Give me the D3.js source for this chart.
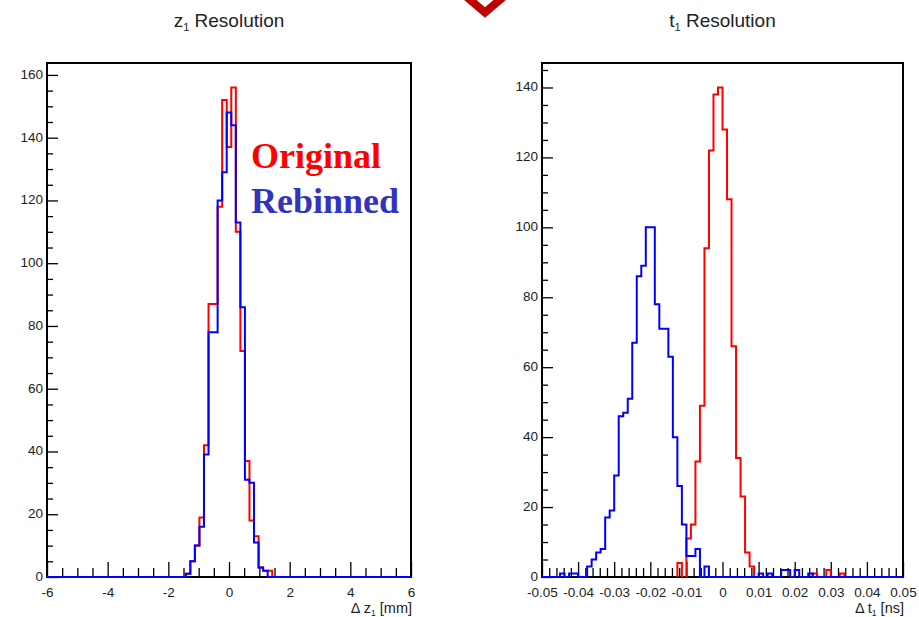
<!DOCTYPE html>
<html>
<head>
<meta charset="utf-8">
<script src="https://d3js.org/d3.v7.min.js"></script>
<style>
  body { margin: 0; background: #fff; }
  svg { display: block; font-family: "Liberation Sans", Arial, Helvetica, sans-serif; }
</style>
</head>
<body>
<svg id="chart" width="919" height="617"></svg>
<script>
// ---- z1 resolution: bins of 0.15 mm, centred on multiples of 0.15 ----
const zRange = [-6, 6];
const zBinWidth = 0.15;
const zStart = -1.425;            // low edge of the first listed bin
const zOriginal = [1, 5, 10, 19, 42, 87, 87, 118, 152, 137, 156, 110, 72, 37, 18, 13, 3, 2, 2];
const zRebinned = [1, 5, 10, 16, 39, 78, 78, 120, 129, 148, 144, 113, 86, 31, 30, 11, 3, 2];
const zXTicks = [-6, -4, -2, 0, 2, 4, 6];
const zXLabels = ['-6', '-4', '-2', '0', '2', '4', '6'];
const zYTicks = [0, 20, 40, 60, 80, 100, 120, 140, 160];

// ---- t1 resolution: 80 bins on [-0.05, 0.05] ----
const tRange = [-0.05, 0.05];
const tBinWidth = 0.00125;
const tOriginalStart = -0.0125;
const tOriginal = [4, 0, 11, 15, 33, 49, 94, 122, 138, 140, 128, 108, 66, 34, 23, 7, 3,
                   0, 0, 0, 0, 0, 0, 0, 0, 0, 0, 0, 0, 0, 1, 0, 0, 2, 0, 0, 1];
const tRebinnedStart = -0.045;
const tRebinned = [1, 0, 1, 1, 0, 0, 3, 5, 7, 8, 17, 19, 29, 46, 47, 51, 67, 86, 89, 100,
                   100, 78, 71, 71, 63, 40, 26, 15, 6, 6, 8, 0, 3, 0, 0, 0, 0, 0, 0, 0,
                   0, 0, 0, 0, 1, 0, 1, 0, 0, 2, 2, 0, 2, 0, 0, 1];
const tXTicks = [-0.05, -0.04, -0.03, -0.02, -0.01, 0, 0.01, 0.02, 0.03, 0.04, 0.05];
const tXLabels = ['-0.05', '-0.04', '-0.03', '-0.02', '-0.01', '0', '0.01', '0.02', '0.03', '0.04', '0.05'];
const tYTicks = [0, 20, 40, 60, 80, 100, 120, 140];

const legendLabels = ['Original', 'Rebinned'];

const svg = d3.select('#chart');

class HistoPanel {

    constructor( config ) {
        this.config = {
            left: config.left,
            top: config.top,
            width: config.width,
            height: config.height,
            xdomain: config.xdomain,
            ymax: config.ymax,
            xticks: config.xticks,
            xlabels: config.xlabels,
            xminor: config.xminor,
            yticks: config.yticks,
            yminor: config.yminor,
            title: config.title,
            xtitle: config.xtitle
        };
        this.init();
    }

    init() {
        let self = this;
        const c = self.config;

        self.xscale = d3.scaleLinear().domain( c.xdomain ).range( [0, c.width] );
        self.yscale = d3.scaleLinear().domain( [0, c.ymax] ).range( [c.height, 0] );

        self.chart = svg.append('g')
            .attr('transform', `translate(${c.left}, ${c.top})`);

        const clean = g => {
            g.select('.domain').remove();
            g.selectAll('line').attr('stroke', '#000').attr('stroke-width', 1.3);
            g.attr('font-family', null)
                .attr('font-size', 13.5)
                .selectAll('text').attr('fill', '#222');
        };

        // x ticks point up into the frame
        self.chart.append('g')
            .attr('transform', `translate(0, ${c.height})`)
            .call( d3.axisBottom( self.xscale ).tickValues( c.xminor ).tickSize(-9).tickFormat('') )
            .call( clean );
        self.chart.append('g')
            .attr('transform', `translate(0, ${c.height})`)
            .call( d3.axisBottom( self.xscale ).tickValues( c.xticks ).tickSize(-15)
                .tickPadding(10.5).tickFormat( (d, i) => c.xlabels[i] ) )
            .call( clean );

        // y ticks point right
        self.chart.append('g')
            .call( d3.axisLeft( self.yscale ).tickValues( c.yminor ).tickSize(-6).tickFormat('') )
            .call( clean );
        self.chart.append('g')
            .call( d3.axisLeft( self.yscale ).tickValues( c.yticks ).tickSize(-11)
                .tickPadding(4).tickFormat( d3.format('d') ) )
            .call( clean )
            .selectAll('text').attr('dy', '0.25em');

        self.chart.append('rect')
            .attr('width', c.width)
            .attr('height', c.height)
            .attr('fill', 'none')
            .attr('stroke', '#000')
            .attr('stroke-width', 2);

        // title with subscript
        const title = svg.append('text')
            .attr('x', c.left + c.width / 2)
            .attr('y', 27)
            .attr('text-anchor', 'middle')
            .attr('font-size', 19)
            .attr('fill', '#222');
        title.append('tspan').text( c.title[0] );
        title.append('tspan').attr('font-size', 11).attr('dy', 4).text( c.title[1] );
        title.append('tspan').attr('dy', -4).text( c.title[2] );

        const xt = svg.append('text')
            .attr('x', c.left + c.width + 1)
            .attr('y', 613)
            .attr('text-anchor', 'end')
            .attr('font-size', 14.5)
            .attr('fill', '#222');
        xt.append('tspan').text( c.xtitle[0] );
        xt.append('tspan').attr('font-size', 8.5).attr('dy', 3).text( c.xtitle[1] );
        xt.append('tspan').attr('dy', -3).text( c.xtitle[2] );

        self.hists = self.chart.append('g');
    }

    // full = true draws the empty bins along the baseline as well
    addHist( start, binWidth, counts, color, full ) {
        let self = this;
        const c = self.config;
        const edge = i => start + i * binWidth;

        const line = d3.line()
            .x( d => self.xscale( d[0] ) )
            .y( d => self.yscale( d[1] ) )
            .curve( d3.curveStepAfter );

        let runs = [];
        if ( full ) {
            runs.push( [[c.xdomain[0], 0]]
                .concat( counts.map( (v, i) => [edge(i), v] ) )
                .concat( [[edge(counts.length), 0], [c.xdomain[1], 0]] ) );
        } else {
            let run = null;
            counts.forEach( (v, i) => {
                if ( v > 0 ) {
                    if ( !run ) run = [[edge(i), 0]];
                    run.push( [edge(i), v] );
                } else if ( run ) {
                    run.push( [edge(i), 0] );
                    runs.push( run );
                    run = null;
                }
            });
            if ( run ) {
                run.push( [edge(counts.length), 0] );
                runs.push( run );
            }
        }

        self.hists.selectAll(null)
            .data( runs )
            .enter()
            .append('path')
            .attr('d', line)
            .attr('fill', 'none')
            .attr('stroke', color)
            .attr('stroke-width', 2);
    }
}

const zPanel = new HistoPanel({
    left: 47, top: 63, width: 364, height: 514,
    xdomain: zRange,
    ymax: d3.max( zOriginal ) * 1.05,
    xticks: zXTicks,
    xlabels: zXLabels,
    xminor: d3.range(-5.5, 6, 0.5).filter( v => v % 2 !== 0 ),
    yticks: zYTicks,
    yminor: d3.range(5, 164, 5).filter( v => v % 20 !== 0 ),
    title: ['z', '1', ' Resolution'],
    xtitle: ['\u0394 z', '1', ' [mm]']
});
zPanel.addHist( zStart, zBinWidth, zOriginal, '#ff0000', false );
zPanel.addHist( zStart, zBinWidth, zRebinned, '#0000ff', true );

const tPanel = new HistoPanel({
    left: 542, top: 63, width: 361, height: 514,
    xdomain: tRange,
    ymax: d3.max( tOriginal ) * 1.05,
    xticks: tXTicks,
    xlabels: tXLabels,
    xminor: d3.range(0, 51).filter( k => k % 5 !== 0 ).map( k => -0.05 + k * 0.002 ),
    yticks: tYTicks,
    yminor: d3.range(5, 147, 5).filter( v => v % 20 !== 0 ),
    title: ['t', '1', ' Resolution'],
    xtitle: ['\u0394 t', '1', ' [ns]']
});
tPanel.addHist( tOriginalStart, tBinWidth, tOriginal, '#ff0000', false );
tPanel.addHist( tRebinnedStart, tBinWidth, tRebinned, '#0000ff', true );

// legend text
svg.selectAll('.legend')
    .data( legendLabels )
    .enter()
    .append('text')
    .attr('x', 251)
    .attr('y', (d, i) => 168 + i * 45)
    .attr('font-family', '"Liberation Serif", "Times New Roman", serif')
    .attr('font-weight', 'bold')
    .attr('font-size', 36)
    .attr('fill', (d, i) => i === 0 ? '#ff0000' : '#3333bb')
    .text( d => d );

// red chevron at the top
svg.append('polyline')
    .attr('points', '448,-19 485,12.5 522,-19')
    .attr('fill', 'none')
    .attr('stroke', '#c00000')
    .attr('stroke-width', 8)
    .attr('stroke-linejoin', 'miter');
</script>
</body>
</html>
